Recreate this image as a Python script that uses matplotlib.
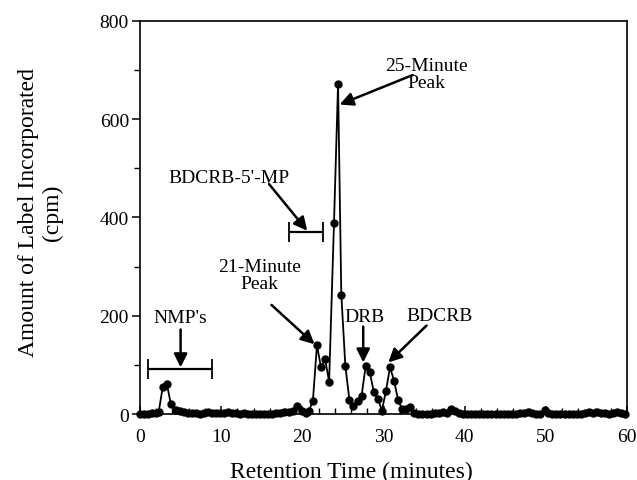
import matplotlib
matplotlib.use("Agg")
import matplotlib.pyplot as plt
from matplotlib.ticker import MultipleLocator

plt.rcParams['font.family'] = ['Liberation Serif', 'DejaVu Serif']

# retention time (minutes) and label incorporated (cpm)
time_min = [0.0, 0.5, 1.0, 1.5, 2.0, 2.3, 2.8, 3.3, 3.8, 4.4, 4.9, 5.4, 5.9, 6.4, 6.9,
            7.4, 7.9, 8.4, 8.9, 9.4, 9.9, 10.4, 10.8, 11.3, 11.8, 12.3, 12.8, 13.3,
            13.8, 14.3, 14.8, 15.3, 15.8, 16.3, 16.8, 17.3, 17.8, 18.3, 18.8, 19.3,
            19.9, 20.4, 20.8, 21.3, 21.8, 22.3, 22.8, 23.3, 23.9, 24.4, 24.8, 25.3,
            25.8, 26.3, 26.8, 27.3, 27.8, 28.3, 28.8, 29.3, 29.8, 30.3, 30.8, 31.3,
            31.8, 32.3, 32.8, 33.3, 33.8, 34.3, 34.8, 35.3, 35.8, 36.3, 36.8, 37.3,
            37.8, 38.3, 38.8, 39.3, 39.8, 40.3, 40.8, 41.3, 41.8, 42.3, 42.8, 43.3,
            43.8, 44.3, 44.8, 45.3, 45.8, 46.3, 46.8, 47.3, 47.8, 48.3, 48.8, 49.3,
            49.9, 50.3, 50.8, 51.3, 51.8, 52.3, 52.8, 53.3, 53.8, 54.3, 54.8, 55.3,
            55.8, 56.3, 56.8, 57.3, 57.8, 58.3, 58.8, 59.3, 59.8]
cpm = [1, 1, 1, 2, 2, 4, 55, 62, 20, 8, 6, 4, 2, 2, 2,
       1, 2, 4, 2, 2, 2, 2, 5, 3, 2, 1, 2, 1,
       1, 1, 1, 1, 1, 1, 2, 2, 4, 5, 6, 16,
       7, 2, 6, 27, 140, 95, 112, 66, 389, 672, 243, 98,
       28, 17, 27, 37, 98, 86, 45, 31, 7, 47, 95, 68,
       28, 10, 10, 14, 2, 1, 1, 1, 1, 2, 3, 5,
       2, 10, 6, 2, 1, 1, 1, 1, 1, 1, 1, 1,
       1, 1, 1, 1, 1, 1, 2, 3, 4, 2, 1, 1,
       9, 2, 1, 1, 1, 1, 1, 1, 1, 1, 2, 5,
       3, 4, 2, 2, 1, 3, 5, 2, 1]

# annotation texts and where they sit (data units)
labels = ["NMP's", "21-Minute\nPeak", "BDCRB-5'-MP", "25-Minute\nPeak", "DRB", "BDCRB"]
label_xy = [(5.0, 196), (14.7, 283), (11.0, 482), (35.3, 693), (27.7, 199), (36.9, 200)]
arrow_tail = [(5.0, 172), (16.2, 222), (15.9, 468), (33.6, 690), (27.5, 178), (35.3, 180)]
arrow_tip = [(5.0, 95), (21.5, 142), (20.6, 373), (24.6, 630), (27.5, 105), (30.6, 105)]

# fraction-range brackets: (start, end, level)
brackets = [(1.0, 8.9, 92), (18.3, 22.6, 370)]

fig = plt.figure(figsize=(6.37, 4.81), dpi=100)
ax = fig.add_axes([0.2198, 0.1372, 0.7645, 0.8171])

ax.plot(time_min, cpm, color='black', lw=1.3, marker='o', ms=5, clip_on=False, zorder=3)

for txt, xy in zip(labels, label_xy):
    ax.text(xy[0], xy[1], txt, ha='center', va='center', fontsize=14, linespacing=1.0)

for tail, tip in zip(arrow_tail, arrow_tip):
    ax.annotate('', xy=tip, xytext=tail,
                arrowprops=dict(arrowstyle='-|>', color='black', lw=1.8,
                                mutation_scale=20, shrinkA=0, shrinkB=0))

for x0, x1, lev in brackets:
    ax.errorbar((x0 + x1) / 2, lev, xerr=(x1 - x0) / 2, color='black', lw=1.6,
                capsize=7, capthick=1.3)

ax.set_xlim(0, 60)
ax.set_ylim(0, 800)
ax.xaxis.set_major_locator(MultipleLocator(10))
ax.xaxis.set_minor_locator(MultipleLocator(2))
ax.yaxis.set_major_locator(MultipleLocator(200))
ax.yaxis.set_minor_locator(MultipleLocator(100))
ax.tick_params(axis='x', which='both', direction='in', labelsize=14, pad=10)
ax.tick_params(axis='x', which='major', length=6, width=1.1)
ax.tick_params(axis='x', which='minor', length=4, width=1.0)
ax.tick_params(axis='y', which='both', direction='out', labelsize=14, pad=2)
ax.tick_params(axis='y', which='major', length=6, width=1.1)
ax.tick_params(axis='y', which='minor', length=4, width=1.0)
for s in ax.spines.values():
    s.set_linewidth(1.2)

ax.set_xlabel('Retention Time (minutes)', fontsize=17)
ax.xaxis.set_label_coords(0.434, -0.118)
ax.set_ylabel('Amount of Label Incorporated\n(cpm)', fontsize=17, linespacing=1.2)
ax.yaxis.set_label_coords(-0.158, 0.515)

fig.savefig('out.png', dpi=100)
